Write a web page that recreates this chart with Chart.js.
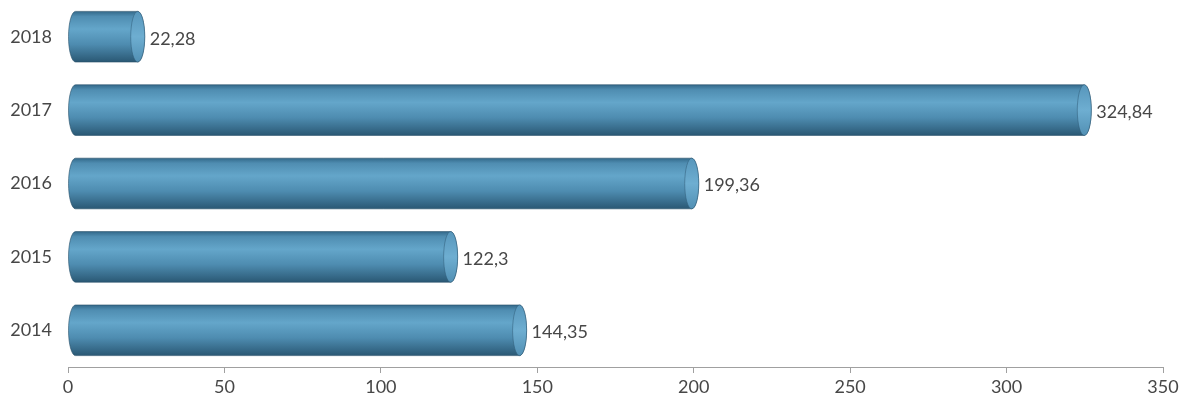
<!DOCTYPE html>
<html>
<head>
<meta charset="utf-8">
<script src="https://cdn.jsdelivr.net/npm/chart.js@4.4.1/dist/chart.umd.min.js"></script>
<style>
  html, body { margin: 0; padding: 0; background: #fff; }
  #wrap { width: 1199px; height: 403px; }
</style>
</head>
<body>
<div id="wrap"><canvas id="c"></canvas></div>
<script>
const years = ['2018', '2017', '2016', '2015', '2014'];
const values = [22.28, 324.84, 199.36, 122.3, 144.35];
const xTicks = [0, 50, 100, 150, 200, 250, 300, 350];

const fmt = v => String(v).replace('.', ',');

// draws each bar as a horizontal cylinder with a value label after it
const cylinders = {
    id: 'cylinders',
    afterDatasetsDraw(chart) {
        const ctx = chart.ctx;
        const meta = chart.getDatasetMeta(0);
        meta.data.forEach((bar, i) => {
            const p = bar.getProps(['x', 'y', 'base', 'height'], true);
            const top = p.y - p.height / 2, bot = p.y + p.height / 2;
            const rx = 7, ry = p.height / 2;
            const g = ctx.createLinearGradient(0, top, 0, bot);
            g.addColorStop(0, '#33698a');
            g.addColorStop(0.1, '#4f8db1');
            g.addColorStop(0.35, '#64a6ca');
            g.addColorStop(0.65, '#4e8cb0');
            g.addColorStop(1, '#2a5874');
            ctx.save();
            ctx.beginPath();
            ctx.moveTo(p.base + rx, top);
            ctx.lineTo(p.x, top);
            ctx.ellipse(p.x, p.y, rx, ry, 0, -Math.PI / 2, Math.PI / 2);
            ctx.lineTo(p.base + rx, bot);
            ctx.ellipse(p.base + rx, p.y, rx, ry, 0, Math.PI / 2, Math.PI * 1.5);
            ctx.closePath();
            ctx.fillStyle = g;
            ctx.fill();
            ctx.strokeStyle = 'rgba(40,80,105,0.6)';
            ctx.lineWidth = 1;
            ctx.stroke();
            // end face
            const cg = ctx.createLinearGradient(0, top, 0, bot);
            cg.addColorStop(0, '#5796bb');
            cg.addColorStop(0.5, '#6eaed1');
            cg.addColorStop(1, '#5290b4');
            ctx.beginPath();
            ctx.ellipse(p.x, p.y, rx, ry, 0, 0, Math.PI * 2);
            ctx.fillStyle = cg;
            ctx.fill();
            ctx.strokeStyle = 'rgba(45,90,118,0.5)';
            ctx.stroke();
            // value label
            ctx.fillStyle = '#474747';
            ctx.font = '18px Lato';
            ctx.textAlign = 'left';
            ctx.textBaseline = 'middle';
            ctx.fillText(fmt(values[i]), p.x + rx + 5, p.y + 2);
            ctx.restore();
        });
    }
};

new Chart(document.getElementById('c'), {
    type: 'bar',
    data: {
        labels: years,
        datasets: [{
            data: values,
            backgroundColor: 'rgba(0,0,0,0)',
            categoryPercentage: 0.69,
            barPercentage: 1
        }]
    },
    options: {
        indexAxis: 'y',
        responsive: true,
        maintainAspectRatio: false,
        animation: false,
        layout: { padding: { top: 0, right: 36, left: 0, bottom: 0 } },
        plugins: { legend: { display: false }, tooltip: { enabled: false } },
        scales: {
            x: {
                min: 0,
                max: 350,
                afterBuildTicks: s => { s.ticks = xTicks.map(v => ({ value: v })); },
                afterFit: s => { s.height = 36; s.paddingTop = 0; s.paddingBottom = 0; },
                border: { display: true, color: '#a0a0a0', width: 1 },
                grid: { drawOnChartArea: false, drawTicks: true, tickLength: 6, color: '#a0a0a0' },
                ticks: { color: '#474747', font: { family: 'Lato', size: 18 }, padding: 3 }
            },
            y: {
                afterFit: s => { s.width = 68; s.paddingTop = 0; s.paddingBottom = 0; },
                border: { display: false },
                grid: { display: false },
                ticks: { color: '#474747', font: { family: 'Lato', size: 18 }, padding: 8 }
            }
        }
    },
    plugins: [cylinders]
});
</script>
</body>
</html>
